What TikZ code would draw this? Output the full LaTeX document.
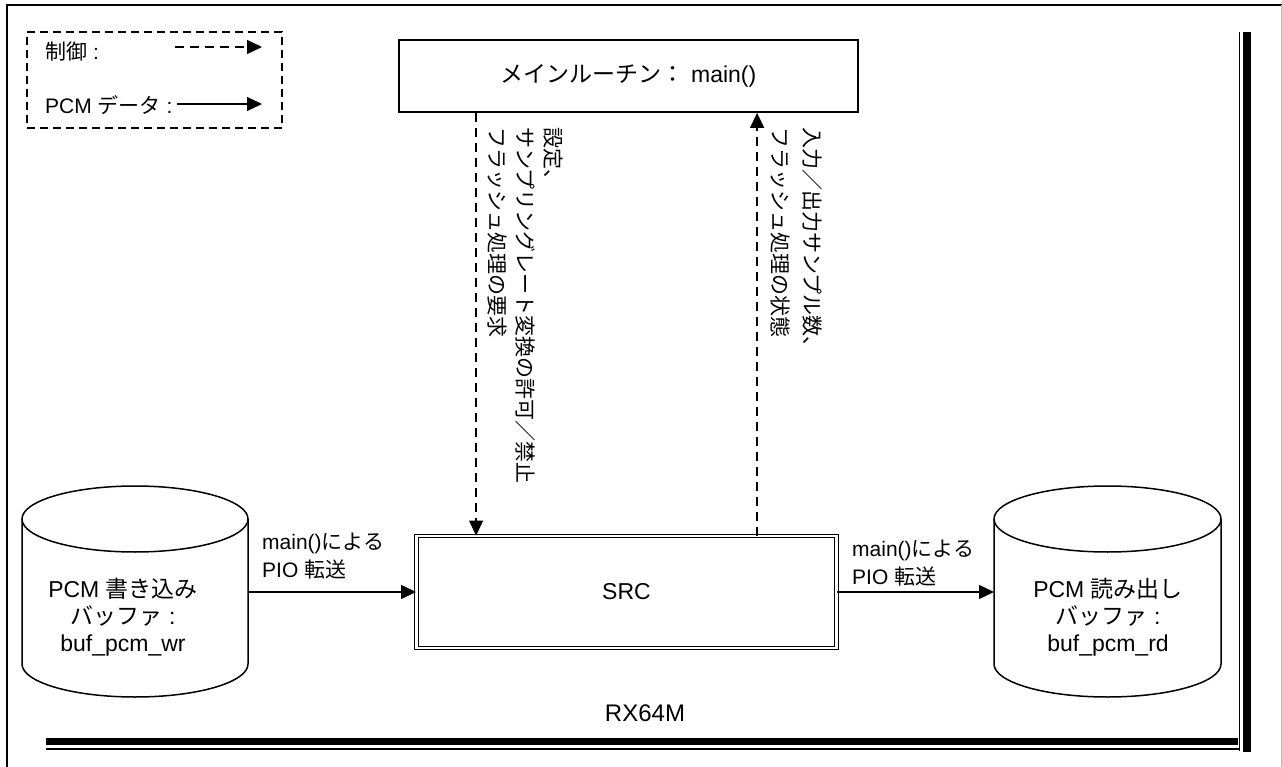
\documentclass[tikz,border=0pt]{standalone}
\usepackage{fontspec}
\setmainfont{Liberation Sans}
\newfontfamily\jp{Noto Sans CJK JP}
\usetikzlibrary{arrows.meta}
\tikzset{
  lbl/.style={font=\fontsize{21}{28}\selectfont, inner sep=0pt},
  big/.style={font=\fontsize{23}{27}\selectfont},
  ctrl/.style={line width=1.3pt, dash pattern=on 9pt off 6pt, -{Triangle[length=15pt,width=14pt]}},
  data/.style={line width=1.3pt, -{Triangle[length=15pt,width=14pt]}},
  cyl/.style={line width=1.5pt},
}
\begin{document}
\begin{tikzpicture}[x=1pt,y=-1pt]
\useasboundingbox (0,0) rectangle (1282,767);
\fill[white] (0,0) rectangle (1282,767);
% outer frame
\draw[line width=2pt] (6,5) -- (1282,5);
\draw[line width=1.5pt] (7,4) -- (7,767);
\draw[gray!50, line width=1pt] (1281.3,5) -- (1281.3,767);
% RX64M frame
\draw[line width=1.5pt] (1239.5,32) -- (1239.5,751);
\fill (1243,32) rectangle (1251,752);
\fill (46,738) rectangle (1238,745);
\draw[line width=1.5pt] (46,749) -- (1240,749);
% legend
\node[draw, line width=1.3pt, dash pattern=on 8pt off 5pt, minimum width=255pt, minimum height=96pt, inner sep=0pt] (legend) at (154.5,80) {};
\node[lbl, anchor=west] (lg1) at (45,52) {{\jp 制御} :};
\node[lbl, anchor=west] (lg2) at (45,105) {PCM {\jp データ} :};
\coordinate (lg1a) at (175,47);
\coordinate (lg1b) at (262,47);
\coordinate (lg2a) at (177,104);
\coordinate (lg2b) at (262,104);
\draw[ctrl] (lg1a) -- (lg1b);
\draw[data] (lg2a) -- (lg2b);
% main box
\node[draw, line width=1.8pt, minimum width=459pt, minimum height=72pt, big] (main) at (628.5,76) {{\jp メインルーチン：} main()};
% SRC
\node[draw, double, double distance=2.4pt, line width=0.9pt, minimum width=420pt, minimum height=112pt, big] (src) at (626.5,592) {SRC};
% RX64M
\node[font=\fontsize{24}{28}\selectfont] (rx) at (645,713) {RX64M};
% cylinders
\draw[cyl] (22,519) -- (22,664) arc[start angle=180, end angle=0, x radius=113, y radius=33] -- (248,519);
\draw[cyl] (135,519) ellipse [x radius=113, y radius=33];
\draw[cyl] (994,519) -- (994,664) arc[start angle=180, end angle=0, x radius=113.5, y radius=33] -- (1221,519);
\draw[cyl] (1107.5,519) ellipse [x radius=113.5, y radius=33];
\node[big, align=center] (bufwr) at (123,617) {PCM {\jp 書き込み}\\{\jp バッファ} :\\buf\_pcm\_wr};
\node[big, align=center] (bufrd) at (1108,617) {PCM {\jp 読み出し}\\{\jp バッファ} :\\buf\_pcm\_rd};
\coordinate (wrE) at (248,592);
\coordinate (rdW) at (994,592);
% data arrows
\draw[data] (wrE) -- (src.west);
\draw[data] (src.east) -- (rdW);
\node[lbl, anchor=west, align=left] (l1) at (262,556) {main(){\jp による}\\PIO {\jp 転送}};
\node[lbl, anchor=west, align=left] (l2) at (852,563) {main(){\jp による}\\PIO {\jp 転送}};
% control arrows
\coordinate (mA) at ([xshift=78pt]main.south west);
\coordinate (mB) at ([xshift=359pt]main.south west);
\draw[ctrl] (mA) -- (mA |- src.north);
\draw[ctrl] (mB |- src.north) -- (mB);
\node[lbl, rotate=-90, anchor=west] (a1) at (553,127) {\jp 設定、};
\node[lbl, rotate=-90, anchor=west] (a2) at (525,127) {\jp サンプリングレート変換の許可／禁止};
\node[lbl, rotate=-90, anchor=west] (a3) at (497,127) {\jp フラッシュ処理の要求};
\node[lbl, rotate=-90, anchor=west] (b1) at (812,127) {\jp 入力／出力サンプル数、};
\node[lbl, rotate=-90, anchor=west] (b2) at (781,127) {\jp フラッシュ処理の状態};
\end{tikzpicture}
\end{document}
